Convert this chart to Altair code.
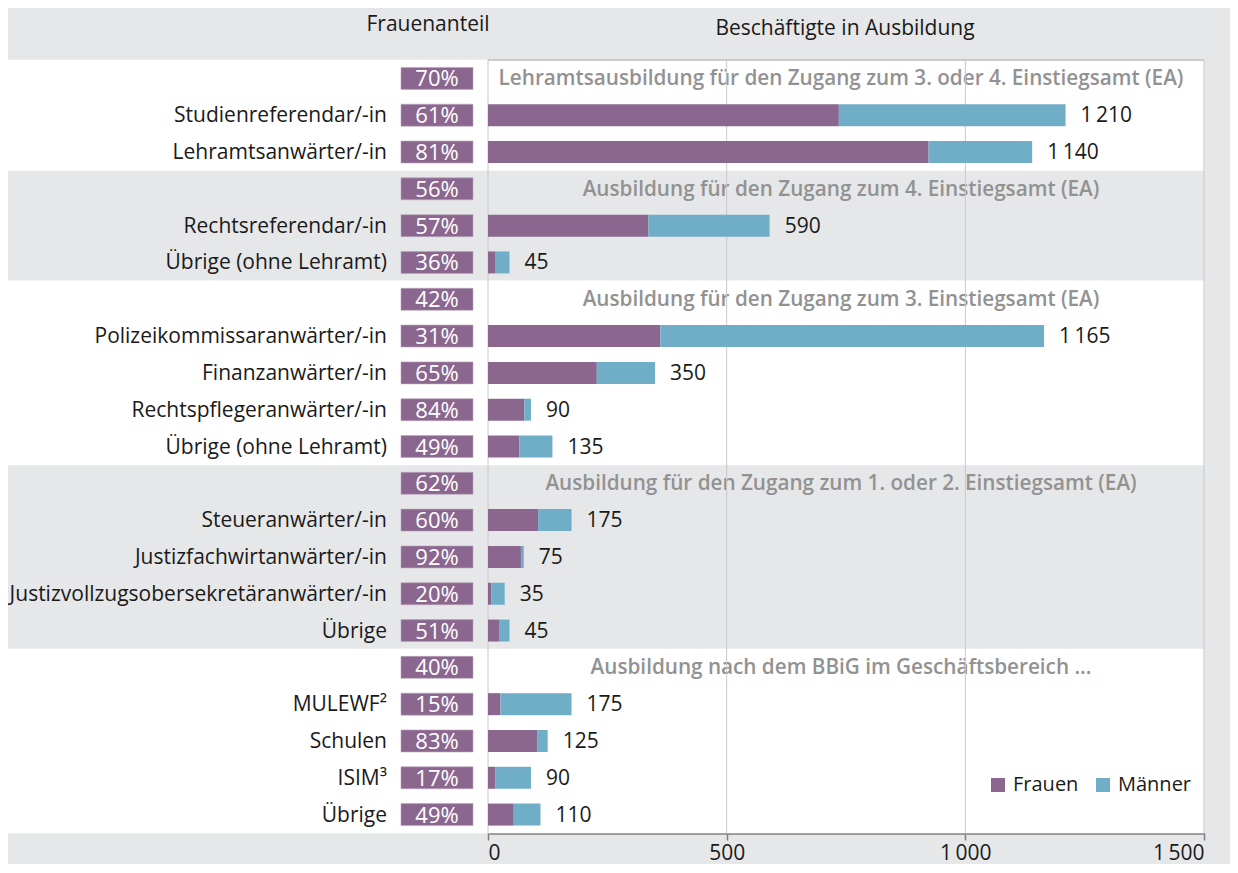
import altair as alt
import pandas as pd

# ---------------- data ----------------
row_ids = [f"r{i:02d}" for i in range(21)]
row_kind = ["h", "i", "i", "h", "i", "i", "h", "i", "i", "i", "i",
            "h", "i", "i", "i", "i", "h", "i", "i", "i", "i"]
row_labels = [
    "Lehramtsausbildung für den Zugang zum 3. oder 4. Einstiegsamt (EA)",
    "Studienreferendar/-in", "Lehramtsanwärter/-in",
    "Ausbildung für den Zugang zum 4. Einstiegsamt (EA)",
    "Rechtsreferendar/-in", "Übrige (ohne Lehramt)",
    "Ausbildung für den Zugang zum 3. Einstiegsamt (EA)",
    "Polizeikommissaranwärter/-in", "Finanzanwärter/-in",
    "Rechtspflegeranwärter/-in", "Übrige (ohne Lehramt)",
    "Ausbildung für den Zugang zum 1. oder 2. Einstiegsamt (EA)",
    "Steueranwärter/-in", "Justizfachwirtanwärter/-in",
    "Justizvollzugsobersekretäranwärter/-in", "Übrige",
    "Ausbildung nach dem  BBiG im Geschäftsbereich ...",
    "MULEWF²", "Schulen", "ISIM³", "Übrige",
]
frauenanteil = ["70%", "61%", "81%", "56%", "57%", "36%", "42%", "31%", "65%",
                "84%", "49%", "62%", "60%", "92%", "20%", "51%", "40%", "15%",
                "83%", "17%", "49%"]
group_band = [1, 1, 1, 2, 2, 2, 3, 3, 3, 3, 3, 4, 4, 4, 4, 4, 5, 5, 5, 5, 5]

# bars (item rows only)
frauen = [735, 923, None, 336, 16, None, 361, 228, 76, 66, None, 105, 69, 7, 23,
          None, 26, 104, 15, 54]
maenner = [475, 217, None, 254, 29, None, 804, 122, 14, 69, None, 70, 6, 28, 22,
           None, 149, 21, 75, 56]
totals = [1210, 1140, None, 590, 45, None, 1165, 350, 90, 135, None, 175, 75, 35,
          45, None, 175, 125, 90, 110]

tick_values = [0, 500, 1000, 1500]

# ---------------- tables ----------------
rows = pd.DataFrame({
    "row": row_ids, "kind": row_kind, "label": row_labels,
    "pct": frauenanteil, "band": group_band,
})
items = rows[rows.kind == "i"].copy()
heads = rows[rows.kind == "h"].copy()
white = rows[rows.band.isin([1, 3, 5])].copy()

item_ids = [r for r, k in zip(row_ids, row_kind) if k == "i"]
f_vals = [v for v in frauen if v is not None]
m_vals = [v for v in maenner if v is not None]
t_vals = [v for v in totals if v is not None]

bars = pd.DataFrame({
    "row": item_ids * 2,
    "Geschlecht": ["Frauen"] * len(item_ids) + ["Männer"] * len(item_ids),
    "wert": f_vals + m_vals,
    "ord": [0] * len(item_ids) + [1] * len(item_ids),
})
tot = pd.DataFrame({"row": item_ids, "total": t_vals})
tot["txt"] = tot["total"].map(lambda v: f"{v:,}".replace(",", "\u2009"))
grid = pd.DataFrame({"v": tick_values})
titles = pd.DataFrame({"t": ["Frauenanteil", "Beschäftigte in Ausbildung"],
                       "x": [-60, 357], "y": [-35, -31]})

FONT = "Open Sans"
PURPLE = "#8b6790"
TEAL = "#70aec7"
W, H = 716, 773

y_band = alt.Y("row:N", sort=row_ids,
               scale=alt.Scale(domain=row_ids, paddingInner=0.4, paddingOuter=0.2),
               axis=None)
y_full = alt.Y("row:N", sort=row_ids,
               scale=alt.Scale(domain=row_ids, paddingInner=0, paddingOuter=0),
               axis=None)
x_scale = alt.Scale(domain=[0, 1500], nice=False)

bg = alt.Chart(white).mark_rect(fill="white", stroke="white", strokeWidth=0.6).encode(
    y=y_full, x=alt.value(-480), x2=alt.value(W)
)

head_txt = alt.Chart(heads).mark_text(
    font=FONT, fontSize=20.7, fontWeight=600, color="#929292", align="center",
    baseline="middle", dy=1
).encode(y=y_band, x=alt.value(353), text="label:N")

grid_rules = alt.Chart(grid).mark_rule(color="#c8c8c8", strokeWidth=1).encode(
    x=alt.X("v:Q", scale=x_scale), y=alt.value(0), y2=alt.value(H)
)
top_rule = alt.Chart(grid).mark_rule(color="#c8c8c8", strokeWidth=1).encode(
    x=alt.value(0), x2=alt.value(W), y=alt.value(0)
)

bar_layer = alt.Chart(bars).mark_bar(size=22).encode(
    y=y_band,
    x=alt.X("wert:Q", stack="zero", scale=x_scale,
            axis=alt.Axis(values=tick_values, grid=False, title=None,
                          labelExpr="replace(format(datum.value, ','), ',', '\u2009')",
                          labelFont=FONT, labelFontSize=21, labelColor="#1a1a1a",
                          labelPadding=2, labelBaseline="top",
                          domainColor="#7f7f7f", domainWidth=2.5,
                          tickColor="#7f7f7f", tickWidth=1.5, tickSize=7)),
    color=alt.Color("Geschlecht:N",
                    scale=alt.Scale(domain=["Frauen", "Männer"], range=[PURPLE, TEAL]),
                    legend=alt.Legend(title=None, orient="none", direction="horizontal",
                                      legendX=500, legendY=715, symbolType="square",
                                      symbolSize=196, symbolStrokeWidth=0,
                                      labelFont=FONT, labelFontSize=20,
                                      labelColor="#1a1a1a", columnPadding=14,
                                      labelOffset=5)),
    order=alt.Order("ord:Q"),
)

tot_txt = alt.Chart(tot).mark_text(
    font=FONT, fontSize=21, color="#1a1a1a", align="left", baseline="middle",
    dx=15, dy=1
).encode(y=y_band, x=alt.X("total:Q", scale=x_scale), text="txt:N")

pct_box = alt.Chart(rows).mark_bar(size=22, fill=PURPLE, stroke="#b9a6bb",
                                   strokeWidth=0.6).encode(
    y=y_band, x=alt.value(-87), x2=alt.value(-15)
)
pct_txt = alt.Chart(rows).mark_text(
    font=FONT, fontSize=22, color="white", align="center", baseline="middle", dy=1
).encode(y=y_band, x=alt.value(-51), text="pct:N")

item_txt = alt.Chart(items).mark_text(
    font=FONT, fontSize=21, color="#1a1a1a", align="right", baseline="middle", dy=1
).encode(y=y_band, x=alt.value(-101), text="label:N")

title_txt = alt.Chart(titles).mark_text(
    font=FONT, fontSize=21, color="#1a1a1a", align="center", baseline="middle"
).encode(x=alt.X("x:Q", scale=None), y=alt.Y("y:Q", scale=None), text="t:N")

chart = alt.layer(
    bg, head_txt, grid_rules, top_rule, bar_layer, tot_txt, pct_box, pct_txt,
    item_txt, title_txt
).properties(
    width=W, height=H,
    autosize=alt.AutoSizeParams(type="none"),
    padding={"left": 480, "top": 52, "right": 26, "bottom": 31},
).configure(background="#e6e7e9").configure_view(stroke=None)

chart.save("out.html", embed_options={"renderer": "svg", "actions": False})
